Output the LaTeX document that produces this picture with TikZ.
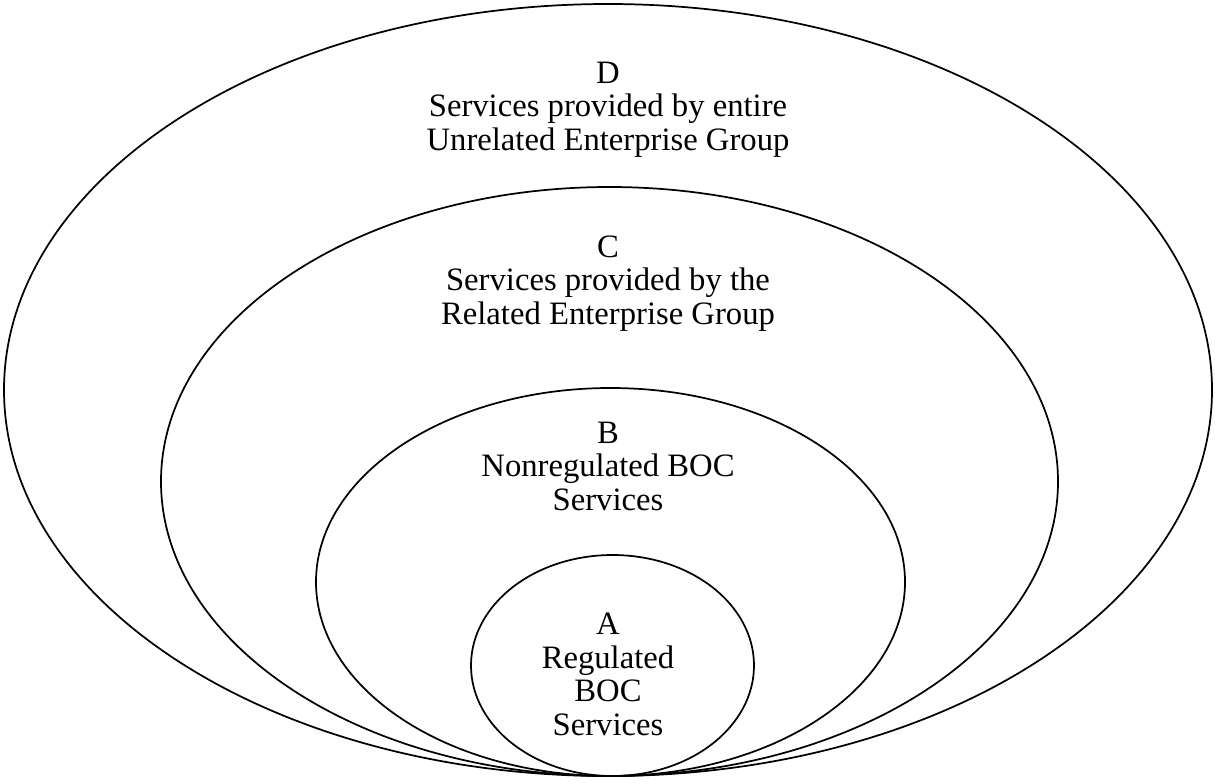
\documentclass[tikz,border=0pt]{standalone}
\usepackage{fontspec}
\setmainfont{Liberation Serif}
\begin{document}
\begin{tikzpicture}[x=0.75pt,y=-0.75pt,
  ring/.style={draw=black, line width=1.3pt},
  lbl/.style={align=center, anchor=base, inner sep=0pt,
              font=\fontsize{24.5}{25.1}\selectfont}]
\useasboundingbox (0,0) rectangle (1215,783);
% nested service sets, all touching at the bottom
\draw[ring] (608,390)     ellipse [x radius=604,   y radius=386];
\draw[ring] (609.5,481.5) ellipse [x radius=448.5, y radius=294.5];
\draw[ring] (610.5,582)   ellipse [x radius=294.5, y radius=194];
\draw[ring] (612.5,665.5) ellipse [x radius=141.5, y radius=110.5];
% labels (anchored at the baseline of their last line)
\node[lbl] (labD) at (608,150) {D\\Services provided by entire\\Unrelated Enterprise Group};
\node[lbl] (labC) at (608,324) {C\\Services provided by the\\Related Enterprise Group};
\node[lbl] (labB) at (608,510) {B\\Nonregulated BOC\\Services};
\node[lbl] (labA) at (608,735) {A\\Regulated\\BOC\\Services};
\end{tikzpicture}
\end{document}
